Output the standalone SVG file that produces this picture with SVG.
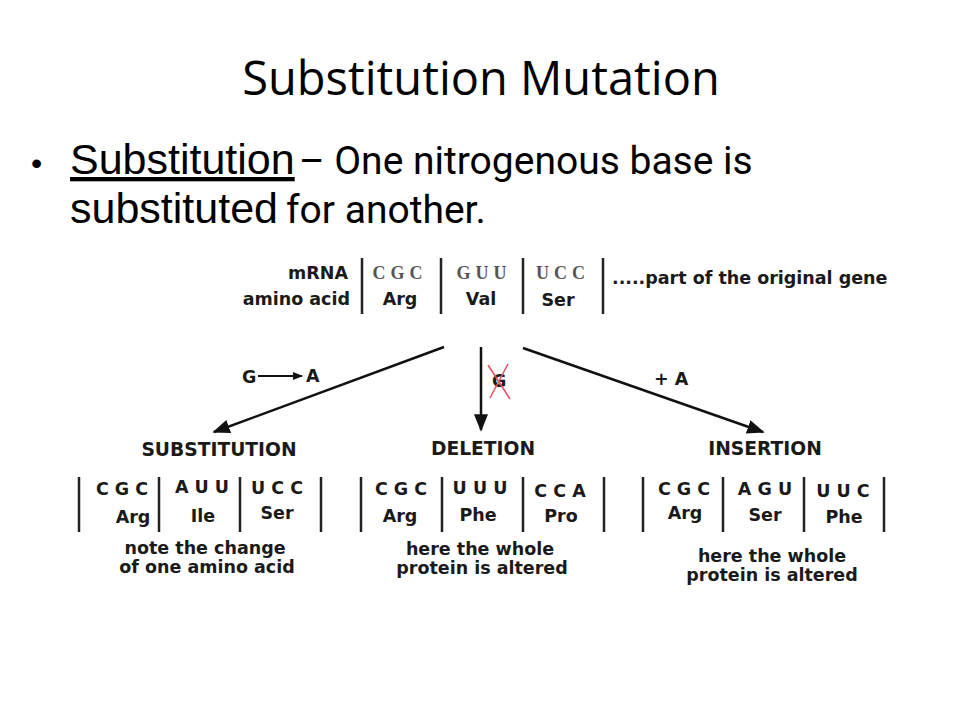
<svg xmlns="http://www.w3.org/2000/svg" width="960" height="720" viewBox="0 0 960 720">
<style>
.t{font-family:"DejaVu Sans",Verdana,sans-serif;font-weight:bold;fill:#1a1a1a;font-size:17.5px}
.h{font-size:18.7px;text-anchor:middle}
.c{text-anchor:middle}
.s{font-family:"Liberation Serif",serif;font-weight:bold;fill:#555;font-size:18px;letter-spacing:5px;text-anchor:middle}
.v{stroke:#222;stroke-width:2.5}
.a{stroke:#111;stroke-width:2.5;fill:none}
</style>
<defs>
<marker id="ah" viewBox="0 0 10 10" refX="9" refY="5" markerWidth="7" markerHeight="7" orient="auto" markerUnits="strokeWidth"><path d="M0,1 L10,5 L0,9 Z" fill="#111"/></marker>
<marker id="ah2" viewBox="0 0 10 10" refX="9" refY="5" markerWidth="5" markerHeight="5" orient="auto" markerUnits="strokeWidth"><path d="M0,1 L10,5 L0,9 Z" fill="#111"/></marker>
</defs>
<rect width="960" height="720" fill="#fff"/>
<g id="title"><text x="481" y="95" text-anchor="middle" font-family="Open Sans,sans-serif" font-size="47" fill="#000">Substitution Mutation</text></g>
<g id="bullet">
<text x="31" y="174" font-family="Liberation Sans,sans-serif" font-size="32" fill="#000">•</text>
<text x="70" y="174" font-family="Liberation Sans,sans-serif" font-size="43" fill="#000" text-decoration="underline">Substitution</text>
<text x="299" y="174" font-family="Roboto,sans-serif" font-size="39" fill="#000">– One nitrogenous base is</text>
<text x="70" y="223" font-family="Liberation Sans,sans-serif" font-size="43" fill="#000">substituted</text>
<text x="286" y="223" font-family="Roboto,sans-serif" font-size="39" fill="#000">for another.</text>
</g>
<g id="original">
<text class="t" x="348" y="279" text-anchor="end">mRNA</text>
<text class="t" x="350" y="305" text-anchor="end">amino acid</text>
<line class="v" x1="362" y1="258" x2="362" y2="314"/>
<line class="v" x1="441" y1="258" x2="441" y2="314"/>
<line class="v" x1="523" y1="258" x2="523" y2="314"/>
<line class="v" x1="603" y1="258" x2="603" y2="314"/>
<text class="s" x="400" y="279">CGC</text>
<text class="s" x="484" y="279">GUU</text>
<text class="s" x="563" y="279">UCC</text>
<text class="t c" x="400" y="305">Arg</text>
<text class="t c" x="481" y="305">Val</text>
<text class="t c" x="558" y="306">Ser</text>
<text class="t" x="612" y="284">.....part of the original gene</text>
</g>
<g id="connectors">
<line class="a" x1="444" y1="347" x2="214" y2="432" marker-end="url(#ah)"/>
<line class="a" x1="481" y1="347" x2="481" y2="430" marker-end="url(#ah)"/>
<line class="a" x1="523" y1="348" x2="763" y2="432" marker-end="url(#ah)"/>
<line stroke="#111" stroke-width="2" x1="258" y1="376" x2="302" y2="376" marker-end="url(#ah2)"/>
</g>
<g id="labels">
<text class="t" x="242" y="383" font-size="17">G</text>
<text class="t" x="306" y="382" font-size="17">A</text>
<text class="t" x="654" y="385" font-size="17">+ A</text>
<text class="t" x="492" y="387" font-size="15">G</text>
<line stroke="#e05060" stroke-width="1.5" x1="488" y1="365" x2="510" y2="399"/>
<line stroke="#e05060" stroke-width="1.5" x1="508" y1="364" x2="490" y2="398"/>
</g>
<g id="substitution">
<text class="t h" x="219" y="456">SUBSTITUTION</text>
<line class="v" x1="79" y1="477" x2="79" y2="532"/>
<line class="v" x1="159" y1="477" x2="159" y2="532"/>
<line class="v" x1="240" y1="477" x2="240" y2="532"/>
<line class="v" x1="321" y1="477" x2="321" y2="532"/>
<text class="t c" x="122" y="495">C G C</text>
<text class="t c" x="202" y="493">A U U</text>
<text class="t c" x="277" y="494">U C C</text>
<text class="t c" x="133" y="523">Arg</text>
<text class="t c" x="203" y="522">Ile</text>
<text class="t c" x="277" y="519">Ser</text>
<text class="t c" x="205" y="554">note the change</text>
<text class="t c" x="207" y="573">of one amino acid</text>
</g>
<g id="deletion">
<text class="t h" x="483" y="455">DELETION</text>
<line class="v" x1="361" y1="477" x2="361" y2="532"/>
<line class="v" x1="442" y1="477" x2="442" y2="532"/>
<line class="v" x1="523" y1="477" x2="523" y2="532"/>
<line class="v" x1="604" y1="477" x2="604" y2="532"/>
<text class="t c" x="401" y="495">C G C</text>
<text class="t c" x="480" y="494">U U U</text>
<text class="t c" x="560" y="497">C C A</text>
<text class="t c" x="400" y="522">Arg</text>
<text class="t c" x="478" y="521">Phe</text>
<text class="t c" x="561" y="522">Pro</text>
<text class="t c" x="480" y="555">here the whole</text>
<text class="t c" x="482" y="574">protein is altered</text>
</g>
<g id="insertion">
<text class="t h" x="765" y="455">INSERTION</text>
<line class="v" x1="643" y1="477" x2="643" y2="532"/>
<line class="v" x1="723" y1="477" x2="723" y2="532"/>
<line class="v" x1="804" y1="477" x2="804" y2="532"/>
<line class="v" x1="884" y1="477" x2="884" y2="532"/>
<text class="t c" x="684" y="495">C G C</text>
<text class="t c" x="765" y="495">A G U</text>
<text class="t c" x="843" y="497">U U C</text>
<text class="t c" x="685" y="519">Arg</text>
<text class="t c" x="765" y="521">Ser</text>
<text class="t c" x="844" y="523">Phe</text>
<text class="t c" x="772" y="562">here the whole</text>
<text class="t c" x="772" y="581">protein is altered</text>
</g>
</svg>
